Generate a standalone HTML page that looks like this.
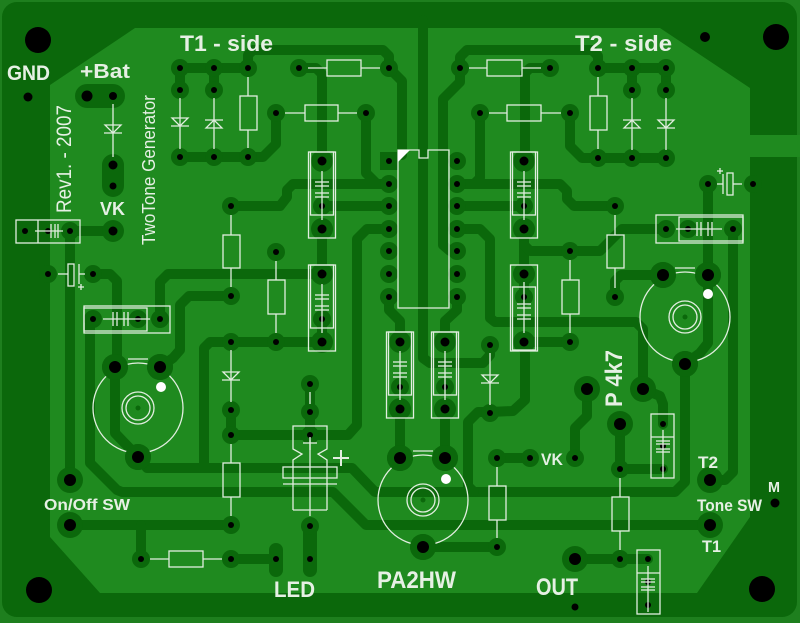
<!DOCTYPE html>
<html><head><meta charset="utf-8"><style>
html,body{margin:0;padding:0;background:#1e7f1e;}
svg{display:block;}
text{font-family:"Liberation Sans",sans-serif;font-weight:bold;fill:#e6f0e4;}
</style></head><body>
<svg width="800" height="623" viewBox="0 0 800 623" xmlns="http://www.w3.org/2000/svg">
<defs>
<g id="s"><circle r="9" fill="#0b680b"/><circle r="3" fill="#000"/></g>
<g id="m"><circle r="11" fill="#0b680b"/><circle r="4.5" fill="#000"/></g>
<g id="b"><circle r="13" fill="#0b680b"/><circle r="6" fill="#000"/></g>
<g id="h"><circle r="3" fill="#000"/></g>
</defs>
<rect x="0" y="0" width="800" height="623" fill="#1e7f1e"/>
<rect x="2" y="2" width="795" height="615" rx="15" fill="#0b680b"/>
<polygon fill="#1f8a1f" points="135,28 660,28 750,88 750,135 800,135 800,157 750,157 750,517 697,593 100,593 50,537 50,85"/>

<!-- traces -->
<g fill="none" stroke="#0b680b" stroke-width="10" stroke-linejoin="round" stroke-linecap="round">
<polyline points="248,68 248,55 253,50 383,50 389,56 389,68"/>
<polyline points="180,68 248,68"/>
<polyline points="180,68 180,90"/><polyline points="214,68 214,90"/>
<polyline points="180,157 263,157 276,144 276,113"/>
<polyline points="299,68 316,68 322,74 322,161"/>
<polyline points="366,113 366,173 377,184 389,184"/>
<polyline points="231,206 280,206 287,197 287,190 293,184 389,184"/>
<polyline points="322,206 389,206"/>
<polyline points="322,229 322,274"/>
<polyline points="389,229 367,229 357,239 357,425 348,435 231,435"/>
<polyline points="231,410 231,435"/>
<polyline points="160,367 173,358 180,350 180,305 189,296 231,296"/>
<polyline points="160,319 160,282 168,274 322,274"/>
<polyline points="322,342 210,342 204,348 204,468"/>
<polyline points="93,274 110,274 117,281 117,367"/>
<polyline points="115,367 115,433 138,457"/>
<polyline points="138,457 147,468 352,468 375,492 675,492 685,482 685,364"/>
<polyline points="93,319 90,325 90,463 117,490 122,492 333,492 366,525 710,525"/>
<polyline points="70,231 113,231"/><polyline points="70,231 70,480"/>
<polyline points="70,525 231,525"/><polyline points="141,525 141,559"/>
<polyline points="231,559 276,559"/>
<polyline points="423,20 423,358 430,363 483,363 490,355 490,345"/>
<polyline points="389,68 402,81 402,155"/>
<polyline points="460,68 460,57 467,50 592,50 598,56 598,68"/>
<polyline points="598,68 666,68"/><polyline points="632,68 632,90"/><polyline points="666,68 666,90"/>
<polyline points="460,68 460,82 443,99 443,245 450,251 457,251"/>
<polyline points="550,68 530,68 525,73 525,161"/>
<polyline points="480,113 480,178 474,184 457,184"/>
<polyline points="457,184 560,184 567,191 567,199 574,206 615,206"/>
<polyline points="570,113 570,146 582,158 666,158"/>
<polyline points="457,206 524,206"/>
<polyline points="457,229 480,229 490,239 490,318 495,322 636,322 643,329 643,389"/>
<polyline points="524,229 524,274"/>
<polyline points="524,245 530,251 600,251 622,229 666,229"/>
<polyline points="663,275 621,275 615,281 615,297"/>
<polyline points="708,184 708,275"/>
<polyline points="708,275 708,343 700,353 685,364"/>
<polyline points="733,229 733,472 725,480 710,480"/>
<polyline points="524,342 570,342"/>
<polyline points="525,342 525,400 513,411 490,412"/>
<polyline points="490,412 478,412 468,422 468,486 474,492"/>
<polyline points="389,297 389,310 400,321 400,342"/>
<polyline points="457,297 457,310 445,321 445,342"/>
<polyline points="400,409 400,458"/><polyline points="445,409 445,458"/>
<polyline points="423,547 497,547"/>
<polyline points="497,458 530,458"/>
<polyline points="575,458 575,428 587,416 587,389"/>
<polyline points="643,389 660,396 663,404 663,424"/>
<polyline points="620,424 620,469 663,469"/>
<polyline points="575,559 648,559"/>
<polyline points="310,384 310,435"/>
<polyline points="322,342 322,319"/>
<polyline points="524,274 524,297"/>
</g>
<!-- ovals -->
<g stroke="#0b680b" stroke-linecap="round" fill="none">
<line x1="87" y1="96" x2="113" y2="96" stroke-width="24"/>
<line x1="113" y1="165" x2="113" y2="186" stroke-width="22"/>
<line x1="276" y1="550" x2="276" y2="570" stroke-width="14"/>
<line x1="310" y1="526" x2="310" y2="570" stroke-width="14"/>
</g>

<!-- pads -->
<g>
<use href="#s" x="180" y="68"/><use href="#s" x="214" y="68"/><use href="#s" x="248" y="68"/>
<use href="#s" x="180" y="90"/><use href="#s" x="214" y="90"/>
<use href="#s" x="180" y="157"/><use href="#s" x="214" y="157"/><use href="#s" x="248" y="157"/>
<use href="#s" x="299" y="68"/><use href="#s" x="389" y="68"/><use href="#s" x="276" y="113"/><use href="#s" x="366" y="113"/>
<use href="#s" x="460" y="68"/><use href="#s" x="550" y="68"/>
<use href="#s" x="598" y="68"/><use href="#s" x="632" y="68"/><use href="#s" x="666" y="68"/>
<use href="#s" x="632" y="90"/><use href="#s" x="666" y="90"/>
<use href="#s" x="598" y="158"/><use href="#s" x="632" y="158"/><use href="#s" x="666" y="158"/>
<use href="#s" x="480" y="113"/><use href="#s" x="570" y="113"/>
<use href="#h" x="25" y="231"/><use href="#h" x="48" y="231"/><use href="#s" x="70" y="231"/><use href="#m" x="113" y="231"/>
<use href="#s" x="48" y="274"/><use href="#s" x="93" y="274"/>
<use href="#s" x="93" y="319"/><use href="#s" x="138" y="319"/><use href="#s" x="160" y="319"/>
<rect x="380" y="152" width="18" height="18" fill="#0b680b"/><circle cx="389" cy="161" r="3" fill="#000"/>
<use href="#s" x="389" y="184"/><use href="#s" x="389" y="206"/><use href="#s" x="389" y="229"/><use href="#s" x="389" y="251"/><use href="#s" x="389" y="274"/><use href="#s" x="389" y="297"/>
<use href="#s" x="457" y="161"/><use href="#s" x="457" y="184"/><use href="#s" x="457" y="206"/><use href="#s" x="457" y="229"/><use href="#s" x="457" y="251"/><use href="#s" x="457" y="274"/><use href="#s" x="457" y="297"/>
<use href="#m" x="322" y="161"/><use href="#s" x="322" y="206"/><use href="#m" x="322" y="229"/>
<use href="#m" x="322" y="274"/><use href="#s" x="322" y="319"/><use href="#m" x="322" y="342"/>
<use href="#m" x="524" y="161"/><use href="#s" x="524" y="206"/><use href="#m" x="524" y="229"/>
<use href="#m" x="524" y="274"/><use href="#s" x="524" y="297"/><use href="#m" x="524" y="342"/>
<use href="#m" x="400" y="342"/><use href="#s" x="400" y="387"/><use href="#m" x="400" y="409"/>
<use href="#m" x="445" y="342"/><use href="#s" x="445" y="387"/><use href="#m" x="445" y="409"/>
<use href="#s" x="231" y="206"/><use href="#s" x="231" y="296"/><use href="#s" x="276" y="252"/><use href="#s" x="276" y="342"/>
<use href="#s" x="231" y="342"/><use href="#s" x="231" y="410"/><use href="#s" x="231" y="435"/><use href="#s" x="231" y="525"/>
<use href="#s" x="141" y="559"/><use href="#s" x="231" y="559"/><use href="#h" x="276" y="559"/><use href="#h" x="310" y="559"/>
<use href="#s" x="310" y="384"/><use href="#s" x="310" y="412"/><use href="#s" x="310" y="435"/><use href="#s" x="310" y="526"/>
<use href="#s" x="490" y="345"/><use href="#s" x="490" y="413"/><use href="#s" x="497" y="458"/><use href="#s" x="530" y="458"/><use href="#s" x="575" y="458"/>
<use href="#s" x="497" y="547"/><use href="#s" x="570" y="251"/><use href="#s" x="570" y="342"/>
<use href="#s" x="615" y="206"/><use href="#s" x="615" y="297"/><use href="#s" x="620" y="469"/><use href="#s" x="620" y="559"/>
<use href="#h" x="663" y="424"/><use href="#h" x="663" y="446"/><use href="#h" x="663" y="469"/>
<use href="#h" x="648" y="559"/><use href="#h" x="648" y="582"/><use href="#h" x="648" y="605"/>
<use href="#s" x="708" y="184"/><use href="#s" x="753" y="184"/>
<use href="#s" x="666" y="229"/><use href="#s" x="688" y="229"/><use href="#s" x="733" y="229"/>
<use href="#b" x="115" y="367"/><use href="#b" x="160" y="367"/><use href="#b" x="138" y="457"/>
<use href="#b" x="663" y="275"/><use href="#b" x="708" y="275"/><use href="#b" x="685" y="364"/>
<use href="#b" x="400" y="458"/><use href="#b" x="445" y="458"/><use href="#b" x="423" y="547"/>
<use href="#b" x="587" y="389"/><use href="#b" x="643" y="389"/><use href="#b" x="620" y="424"/>
<use href="#b" x="70" y="480"/><use href="#b" x="70" y="525"/>
<use href="#b" x="710" y="480"/><use href="#b" x="710" y="525"/><use href="#b" x="575" y="559"/>
<circle cx="87" cy="96" r="5.5" fill="#000"/><circle cx="113" cy="96" r="4" fill="#000"/>
<circle cx="113" cy="165" r="4.5" fill="#000"/><circle cx="113" cy="186" r="3.5" fill="#000"/>
<!-- mounting holes -->
<circle cx="38" cy="40" r="13" fill="#000"/><circle cx="776" cy="37" r="13" fill="#000"/>
<circle cx="39" cy="590" r="13" fill="#000"/><circle cx="762" cy="589" r="13" fill="#000"/>
<circle cx="28" cy="97" r="4.5" fill="#000"/><circle cx="705" cy="37" r="5" fill="#000"/>
<circle cx="575" cy="607" r="3.5" fill="#000"/><circle cx="775" cy="503" r="4.5" fill="#000"/>
</g>

<!-- silkscreen -->
<g fill="none" stroke="#e2eee0" stroke-width="1.3">
<!-- resistors vertical -->
<line x1="248" y1="77" x2="248" y2="96"/><rect x="240" y="96" width="17" height="34"/><line x1="248" y1="130" x2="248" y2="148"/>
<line x1="598" y1="77" x2="598" y2="96"/><rect x="590" y="96" width="17" height="34"/><line x1="598" y1="130" x2="598" y2="149"/>
<line x1="231" y1="215" x2="231" y2="235"/><rect x="223" y="235" width="17" height="33"/><line x1="231" y1="268" x2="231" y2="287"/>
<line x1="276" y1="261" x2="276" y2="280"/><rect x="268" y="280" width="17" height="34"/><line x1="276" y1="314" x2="276" y2="333"/>
<line x1="231" y1="444" x2="231" y2="463"/><rect x="223" y="463" width="17" height="34"/><line x1="231" y1="497" x2="231" y2="516"/>
<line x1="615" y1="215" x2="615" y2="235"/><rect x="607" y="235" width="17" height="33"/><line x1="615" y1="268" x2="615" y2="288"/>
<line x1="570" y1="260" x2="570" y2="280"/><rect x="562" y="280" width="17" height="34"/><line x1="570" y1="314" x2="570" y2="333"/>
<line x1="497" y1="467" x2="497" y2="486"/><rect x="489" y="486" width="17" height="34"/><line x1="497" y1="520" x2="497" y2="538"/>
<line x1="620" y1="478" x2="620" y2="497"/><rect x="612" y="497" width="17" height="34"/><line x1="620" y1="531" x2="620" y2="550"/>
<!-- resistors horizontal -->
<line x1="285" y1="113" x2="305" y2="113"/><rect x="305" y="105" width="33" height="16"/><line x1="338" y1="113" x2="357" y2="113"/>
<line x1="308" y1="68" x2="327" y2="68"/><rect x="327" y="60" width="34" height="16"/><line x1="361" y1="68" x2="380" y2="68"/>
<line x1="469" y1="68" x2="487" y2="68"/><rect x="487" y="60" width="35" height="16"/><line x1="522" y1="68" x2="541" y2="68"/>
<line x1="489" y1="113" x2="507" y2="113"/><rect x="507" y="105" width="34" height="16"/><line x1="541" y1="113" x2="561" y2="113"/>
<line x1="150" y1="559" x2="169" y2="559"/><rect x="169" y="551" width="34" height="16"/><line x1="203" y1="559" x2="222" y2="559"/>
<!-- diodes -->
<line x1="113" y1="104" x2="113" y2="157"/><polygon points="105,125 121,125 113,133"/><line x1="104" y1="133" x2="122" y2="133"/>
<line x1="180" y1="98" x2="180" y2="149"/><polygon points="172,118 188,118 180,126"/><line x1="171" y1="126" x2="189" y2="126"/>
<line x1="214" y1="98" x2="214" y2="149"/><polygon points="206,128 222,128 214,120"/><line x1="205" y1="120" x2="223" y2="120"/>
<line x1="632" y1="98" x2="632" y2="150"/><polygon points="624,128 640,128 632,120"/><line x1="623" y1="120" x2="641" y2="120"/>
<line x1="666" y1="98" x2="666" y2="150"/><polygon points="658,120 674,120 666,128"/><line x1="657" y1="128" x2="675" y2="128"/>
<line x1="231" y1="350" x2="231" y2="402"/><polygon points="223,372 239,372 231,380"/><line x1="222" y1="380" x2="240" y2="380"/>
<line x1="490" y1="353" x2="490" y2="405"/><polygon points="482,375 498,375 490,383"/><line x1="481" y1="383" x2="499" y2="383"/>
<!-- IC -->
<path d="M398,150 L419,150 L419,158 L428,158 L428,150 L449,150 L449,308 L398,308 Z"/>
<!-- vertical cap boxes -->
<g id="capv">
<rect x="308.5" y="152" width="27" height="86"/><rect x="310.5" y="152" width="23" height="63"/>
<line x1="322" y1="171" x2="322" y2="220"/>
<line x1="315" y1="182" x2="329" y2="182"/><line x1="315" y1="186" x2="329" y2="186"/>
<line x1="315" y1="193" x2="329" y2="193"/><line x1="315" y1="197" x2="329" y2="197"/>
</g>
<use href="#capv" x="0" y="113"/>
<use href="#capv" x="202" y="0"/>
<use href="#capv" x="78" y="180"/>
<use href="#capv" x="123" y="180"/>
<rect x="510.5" y="265" width="27" height="86"/><rect x="512.5" y="287" width="23" height="63"/>
<line x1="524" y1="282" x2="524" y2="333"/>
<line x1="517" y1="304" x2="531" y2="304"/><line x1="517" y1="308" x2="531" y2="308"/>
<line x1="517" y1="315" x2="531" y2="315"/><line x1="517" y1="319" x2="531" y2="319"/>
<!-- horizontal cap boxes -->
<rect x="84" y="306" width="86" height="27"/><rect x="84" y="308" width="63" height="23"/>
<line x1="103" y1="319" x2="150" y2="319"/>
<line x1="113" y1="312" x2="113" y2="326"/><line x1="117" y1="312" x2="117" y2="326"/><line x1="124" y1="312" x2="124" y2="326"/><line x1="128" y1="312" x2="128" y2="326"/>
<rect x="656" y="215" width="87" height="28"/><rect x="679" y="217" width="64" height="24"/>
<line x1="676" y1="229" x2="722" y2="229"/>
<line x1="697" y1="222" x2="697" y2="236"/><line x1="701" y1="222" x2="701" y2="236"/><line x1="708" y1="222" x2="708" y2="236"/><line x1="712" y1="222" x2="712" y2="236"/>
<rect x="16" y="220" width="64" height="23"/><line x1="38" y1="220" x2="38" y2="243"/>
<line x1="35" y1="231" x2="63" y2="231"/>
<line x1="51" y1="224" x2="51" y2="238"/><line x1="55" y1="224" x2="55" y2="238"/><line x1="58" y1="224" x2="58" y2="238"/>
<!-- small vertical cap boxes right -->
<rect x="651" y="414" width="23" height="64"/><line x1="651" y1="437" x2="674" y2="437"/>
<line x1="663" y1="430" x2="663" y2="478"/>
<line x1="656" y1="441" x2="670" y2="441"/><line x1="656" y1="444" x2="670" y2="444"/><line x1="656" y1="449" x2="670" y2="449"/><line x1="656" y1="452" x2="670" y2="452"/>
<rect x="637" y="550" width="23" height="64"/><line x1="637" y1="573" x2="660" y2="573"/>
<line x1="648" y1="566" x2="648" y2="612"/>
<line x1="641" y1="579" x2="655" y2="579"/><line x1="641" y1="582" x2="655" y2="582"/><line x1="641" y1="587" x2="655" y2="587"/><line x1="641" y1="590" x2="655" y2="590"/>
<!-- small electrolytics -->
<line x1="58" y1="274" x2="68" y2="274"/><rect x="68" y="264" width="6" height="22"/><line x1="79" y1="264" x2="79" y2="284"/><line x1="79" y1="274" x2="85" y2="274"/>
<line x1="78" y1="287" x2="84" y2="287"/><line x1="81" y1="284" x2="81" y2="290"/>
<line x1="717" y1="184" x2="723" y2="184"/><line x1="723" y1="174" x2="723" y2="194"/><rect x="727" y="173" width="6" height="22"/><line x1="733" y1="184" x2="742" y2="184"/>
<line x1="717" y1="171" x2="723" y2="171"/><line x1="720" y1="168" x2="720" y2="174"/>
<!-- big electrolytic -->
<path d="M293,510 L293,460 L302,454 L293,449 L293,426 L327,426 L327,449 L318,454 L327,460 L327,510"/>
<line x1="293" y1="510" x2="327" y2="510"/>
<rect x="283" y="467" width="54" height="11"/>
<line x1="283" y1="484" x2="337" y2="484"/>
<line x1="310" y1="440" x2="310" y2="516"/>
<line x1="310" y1="392" x2="310" y2="404"/>
<line x1="303" y1="443" x2="317" y2="443"/><line x1="310" y1="437" x2="310" y2="450"/>
<line x1="333" y1="458" x2="349" y2="458" stroke-width="2"/><line x1="341" y1="450" x2="341" y2="466" stroke-width="2"/>
<!-- pots -->
<g id="pot">
<circle cx="138" cy="408" r="45"/>
<circle cx="138" cy="408" r="16"/><circle cx="138" cy="408" r="12"/>
<line x1="128" y1="359" x2="148" y2="359"/>
</g>
<use href="#pot" x="547" y="-91"/>
<use href="#pot" x="285" y="92"/>
</g>
<!-- cover pot circles under pads -->
<g>
<use href="#b" x="115" y="367"/><use href="#b" x="160" y="367"/><use href="#b" x="138" y="457"/>
<use href="#b" x="663" y="275"/><use href="#b" x="708" y="275"/><use href="#b" x="685" y="364"/>
<use href="#b" x="400" y="458"/><use href="#b" x="445" y="458"/><use href="#b" x="423" y="547"/>
<circle cx="138" cy="408" r="2.5" fill="#0b680b"/><circle cx="685" cy="317" r="2.5" fill="#0b680b"/><circle cx="423" cy="500" r="2.5" fill="#0b680b"/>
<circle cx="161" cy="387" r="5" fill="#fff"/><circle cx="708" cy="294" r="5" fill="#fff"/><circle cx="446" cy="479" r="5" fill="#fff"/>
<polygon points="398,150 410,150 398,162" fill="#fff"/>
</g>

<!-- text -->
<text x="180" y="51" font-size="22" textLength="93" lengthAdjust="spacingAndGlyphs">T1 - side</text>
<text x="575" y="51" font-size="22" textLength="97" lengthAdjust="spacingAndGlyphs">T2 - side</text>
<text x="7" y="80" font-size="21" textLength="43" lengthAdjust="spacingAndGlyphs">GND</text>
<text x="80" y="78" font-size="20" textLength="50" lengthAdjust="spacingAndGlyphs">+Bat</text>
<text x="100" y="215" font-size="18" textLength="25" lengthAdjust="spacingAndGlyphs">VK</text>
<text transform="translate(71,213) rotate(-90)" font-size="21" font-weight="normal" textLength="108" lengthAdjust="spacingAndGlyphs" style="font-weight:normal">Rev1. - 2007</text>
<text transform="translate(155,245) rotate(-90)" font-size="18" textLength="150" lengthAdjust="spacingAndGlyphs" style="font-weight:normal">TwoTone Generator</text>
<text x="44" y="510" font-size="16" textLength="86" lengthAdjust="spacingAndGlyphs">On/Off SW</text>
<text x="274" y="597" font-size="22" textLength="41" lengthAdjust="spacingAndGlyphs">LED</text>
<text x="377" y="588" font-size="24" textLength="79" lengthAdjust="spacingAndGlyphs">PA2HW</text>
<text x="536" y="595" font-size="24" textLength="42" lengthAdjust="spacingAndGlyphs">OUT</text>
<text x="541" y="465" font-size="17" textLength="22" lengthAdjust="spacingAndGlyphs">VK</text>
<text transform="translate(622,407) rotate(-90)" font-size="24" textLength="57" lengthAdjust="spacingAndGlyphs">P 4k7</text>
<text x="698" y="468" font-size="17" textLength="20" lengthAdjust="spacingAndGlyphs">T2</text>
<text x="697" y="511" font-size="17" textLength="65" lengthAdjust="spacingAndGlyphs">Tone SW</text>
<text x="702" y="552" font-size="17" textLength="19" lengthAdjust="spacingAndGlyphs">T1</text>
<text x="768" y="492" font-size="15" textLength="12" lengthAdjust="spacingAndGlyphs">M</text>
</svg>
</body></html>
